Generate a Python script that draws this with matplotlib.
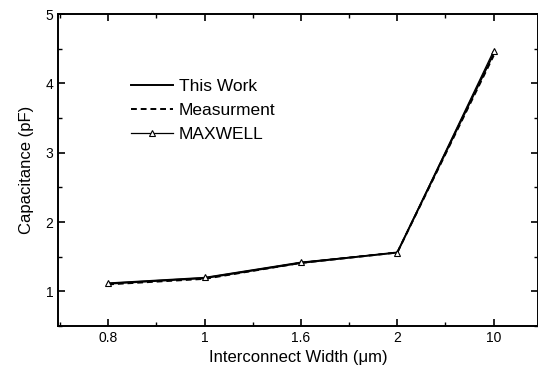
import numpy as np
import matplotlib.pyplot as plt
from matplotlib.ticker import MultipleLocator

plt.rcParams['font.family'] = ['Liberation Sans', 'DejaVu Sans']

# data
widths = ['0.8', '1', '1.6', '2', '10']
this_work = [1.11, 1.19, 1.41, 1.56, 4.43]
measurement = [1.10, 1.18, 1.41, 1.56, 4.40]
maxwell = [1.12, 1.20, 1.42, 1.56, 4.47]

x = np.arange(len(widths))

fig = plt.figure(figsize=(5.38, 3.73), dpi=100)
ax = fig.add_axes([58 / 538, 1 - 326 / 373, 480 / 538, 312 / 373])

ax.plot(x, this_work, color='black', lw=1.4, label='This Work')
ax.plot(x, measurement, color='black', lw=1.4, ls=(0, (3, 2)), label='Measurment')
ax.plot(x, maxwell, color='black', lw=0.9, marker='^', markersize=5,
        markerfacecolor='white', markeredgewidth=0.8, label='MAXWELL')

ax.set_xlim(-0.52, 4.46)
ax.set_ylim(0.5, 5)
ax.set_xticks(x)
ax.set_xticklabels(widths)
ax.xaxis.set_minor_locator(MultipleLocator(0.5))
ax.yaxis.set_major_locator(MultipleLocator(1))
ax.yaxis.set_minor_locator(MultipleLocator(0.5))
ax.tick_params(which='both', direction='in', top=True, right=True, labelsize=10)
ax.tick_params(which='major', length=5, width=1.2)
ax.tick_params(which='minor', length=3, width=1)
for s in ax.spines.values():
    s.set_linewidth(1.4)

ax.set_xlabel('Interconnect Width (\u03bcm)', fontsize=12, labelpad=4)
ax.set_ylabel('Capacitance (pF)', fontsize=12, labelpad=8)

ax.legend(loc='upper left', bbox_to_anchor=(0.12, 0.842), frameon=False,
          fontsize=12.5, handlelength=2.4, handletextpad=0.35, labelspacing=0.52)

fig.savefig('out.png', dpi=100)
